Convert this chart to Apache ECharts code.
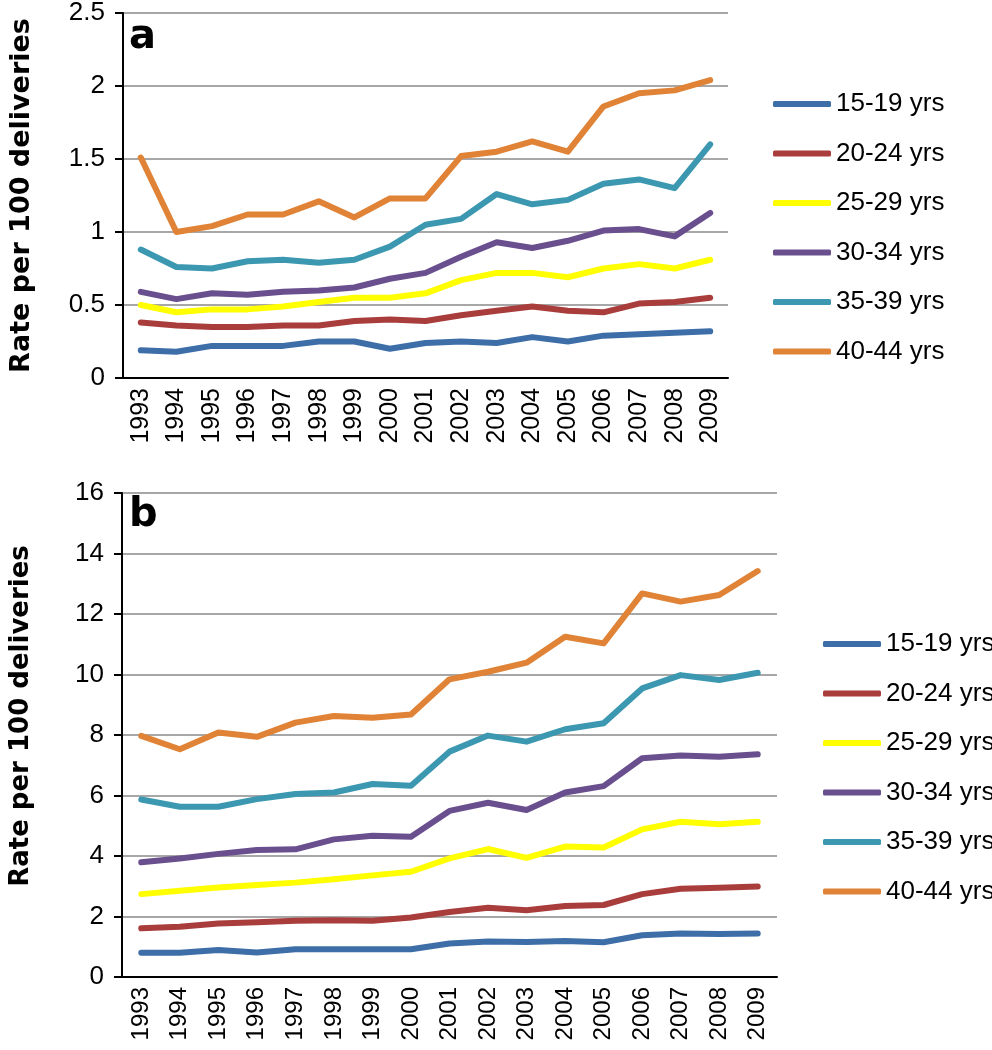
<!DOCTYPE html>
<html>
<head>
<meta charset="utf-8">
<script src="https://cdn.jsdelivr.net/npm/echarts@6/dist/echarts.min.js"></script>
<style>
  html, body { margin: 0; padding: 0; background: #fff; }
  #chart { width: 992px; height: 1050px; }
</style>
</head>
<body>
<div id="chart"></div>
<script>
  // x categories
  var years = ['1993', '1994', '1995', '1996', '1997', '1998', '1999', '2000', '2001',
    '2002', '2003', '2004', '2005', '2006', '2007', '2008', '2009'];
  var groups = ['15-19 yrs', '20-24 yrs', '25-29 yrs', '30-34 yrs', '35-39 yrs', '40-44 yrs'];

  // panel a
  var a15 = [0.19, 0.18, 0.22, 0.22, 0.22, 0.25, 0.25, 0.20, 0.24, 0.25, 0.24, 0.28, 0.25, 0.29, 0.30, 0.31, 0.32];
  var a20 = [0.38, 0.36, 0.35, 0.35, 0.36, 0.36, 0.39, 0.40, 0.39, 0.43, 0.46, 0.49, 0.46, 0.45, 0.51, 0.52, 0.55];
  var a25 = [0.50, 0.45, 0.47, 0.47, 0.49, 0.52, 0.55, 0.55, 0.58, 0.67, 0.72, 0.72, 0.69, 0.75, 0.78, 0.75, 0.81];
  var a30 = [0.59, 0.54, 0.58, 0.57, 0.59, 0.60, 0.62, 0.68, 0.72, 0.83, 0.93, 0.89, 0.94, 1.01, 1.02, 0.97, 1.13];
  var a35 = [0.88, 0.76, 0.75, 0.80, 0.81, 0.79, 0.81, 0.90, 1.05, 1.09, 1.26, 1.19, 1.22, 1.33, 1.36, 1.30, 1.60];
  var a40 = [1.51, 1.00, 1.04, 1.12, 1.12, 1.21, 1.10, 1.23, 1.23, 1.52, 1.55, 1.62, 1.55, 1.86, 1.95, 1.97, 2.04];

  // panel b
  var b15 = [0.80, 0.80, 0.89, 0.81, 0.92, 0.92, 0.92, 0.92, 1.11, 1.17, 1.16, 1.19, 1.15, 1.38, 1.44, 1.42, 1.44];
  var b20 = [1.61, 1.66, 1.77, 1.81, 1.86, 1.88, 1.86, 1.97, 2.15, 2.29, 2.21, 2.35, 2.38, 2.74, 2.92, 2.95, 2.99];
  var b25 = [2.74, 2.85, 2.96, 3.04, 3.12, 3.23, 3.36, 3.48, 3.92, 4.23, 3.94, 4.31, 4.28, 4.88, 5.13, 5.05, 5.13];
  var b30 = [3.79, 3.92, 4.07, 4.20, 4.22, 4.55, 4.67, 4.64, 5.49, 5.76, 5.52, 6.10, 6.31, 7.23, 7.32, 7.28, 7.36];
  var b35 = [5.87, 5.63, 5.63, 5.88, 6.05, 6.10, 6.38, 6.32, 7.45, 7.98, 7.78, 8.19, 8.39, 9.54, 9.98, 9.82, 10.06];
  var b40 = [7.97, 7.53, 8.08, 7.94, 8.41, 8.63, 8.57, 8.68, 9.84, 10.09, 10.39, 11.25, 11.03, 12.68, 12.41, 12.63, 13.42];

  var colors = ['#3e6ea8', '#a83d3c', '#ffff00', '#6a4f8e', '#3b98b0', '#e08336'];
  var font = 'Liberation Sans';

  function makeSeries(list, idx) {
    return list.map(function (data, i) {
      return {
        name: groups[i],
        type: 'line',
        xAxisIndex: idx,
        yAxisIndex: idx,
        data: data,
        symbol: 'none',
        animation: false,
        lineStyle: { color: colors[i], width: 6, cap: 'round', join: 'round' },
        itemStyle: { color: colors[i] }
      };
    });
  }

  function xAxis(idx, size) {
    return {
      type: 'category',
      gridIndex: idx,
      data: years,
      boundaryGap: true,
      axisLine: { lineStyle: { color: '#000', width: 2 } },
      axisTick: { length: 8, lineStyle: { color: '#000', width: 2 } },
      axisLabel: { rotate: 90, interval: 0, margin: 10, color: '#000', fontSize: size, fontFamily: font }
    };
  }

  function yAxis(idx, max, step, nameSize, namePad) {
    return {
      type: 'value',
      gridIndex: idx,
      min: 0,
      max: max,
      interval: step,
      name: 'Rate per 100 deliveries',
      nameLocation: 'middle',
      nameRotate: 90,
      nameGap: 88,
      nameTextStyle: {
        color: '#000', fontSize: nameSize, fontWeight: 'bold', fontFamily: 'DejaVu Sans', padding: namePad
      },
      axisLine: { show: true, lineStyle: { color: '#000', width: 2 } },
      axisTick: { show: true, length: 8, lineStyle: { color: '#000', width: 2 } },
      axisLabel: { margin: 18, color: '#000', fontSize: 26, fontFamily: font },
      splitLine: { lineStyle: { color: '#8a8a8a', width: 1.5 } }
    };
  }

  function legend(left, top) {
    return {
      orient: 'vertical',
      left: left,
      top: top,
      data: groups,
      icon: 'roundRect',
      itemWidth: 58,
      itemHeight: 6,
      itemGap: 23.5,
      textStyle: { color: '#000', fontSize: 26, fontFamily: font }
    };
  }

  var chart = echarts.init(document.getElementById('chart'));
  chart.setOption({
    backgroundColor: '#fff',
    animation: false,
    grid: [
      { left: 110, top: 13, width: 618, height: 365 },
      { left: 109, top: 493, width: 668, height: 484 }
    ],
    xAxis: [xAxis(0, 25), xAxis(1, 24)],
    yAxis: [yAxis(0, 2.5, 0.5, 27, 0), yAxis(1, 16, 2, 26, [0, 0, 0, 38])],
    legend: [legend(768, 86), legend(818, 626)],
    graphic: [
      { type: 'text', left: 129, top: 18, style: { text: 'a', font: 'bold 40px DejaVu Sans', fill: '#000' } },
      { type: 'text', left: 129, top: 496, style: { text: 'b', font: 'bold 40px DejaVu Sans', fill: '#000' } }
    ],
    series: makeSeries([a15, a20, a25, a30, a35, a40], 0)
      .concat(makeSeries([b15, b20, b25, b30, b35, b40], 1))
  });
</script>
</body>
</html>
